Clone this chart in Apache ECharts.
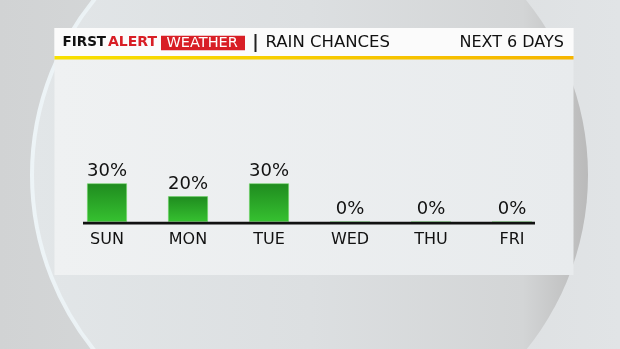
<!DOCTYPE html>
<html>
<head>
<meta charset="utf-8">
<script src="https://cdn.jsdelivr.net/npm/echarts@6/dist/echarts.min.js"></script>
<style>
html,body{margin:0;padding:0;background:#d6d8d9;}
#chart{width:620px;height:349px;}
</style>
</head>
<body>
<div id="chart"></div>
<script>
var categories = ['SUN', 'MON', 'TUE', 'WED', 'THU', 'FRI'];
var rainChance = [30, 20, 30, 0, 0, 0];
var headerBrand = ['FIRST', 'ALERT', 'WEATHER'];
var headerTitle = 'RAIN CHANCES';
var headerRight = 'NEXT 6 DAYS';

var chart = echarts.init(document.getElementById('chart'), null, {renderer: 'canvas'});
var F = '"DejaVu Sans", sans-serif';

var option = {
  animation: false,
  backgroundColor: {
    type: 'linear', x: 0, y: 0, x2: 1, y2: 0,
    colorStops: [{offset: 0, color: '#d1d3d4'}, {offset: 1, color: '#e1e4e6'}]
  },
  graphic: [
    {type: 'circle', z: -10, shape: {cx: 310, cy: 175, r: 278},
     style: {
       fill: {type: 'linear', x: 0, y: 0, x2: 1, y2: 0,
              colorStops: [{offset: 0, color: '#e2e6e8'}, {offset: 0.5, color: '#dcdfe1'},
                           {offset: 0.88, color: '#d3d5d6'}, {offset: 1, color: '#b9b9b9'}]},
       stroke: {type: 'linear', x: 0, y: 0, x2: 1, y2: 0,
                colorStops: [{offset: 0, color: '#edf4f7'}, {offset: 0.5, color: 'rgba(237,244,247,0.5)'}, {offset: 0.8, color: 'rgba(237,244,247,0)'}]},
       lineWidth: 4
     }},
    {type: 'rect', z: -9, shape: {x: 54.5, y: 28, width: 519, height: 247},
     style: {fill: {type: 'linear', x: 0, y: 0, x2: 1, y2: 0,
             colorStops: [{offset: 0, color: '#eff1f2'}, {offset: 1, color: '#e8ebed'}]}}},
    {type: 'rect', z: -8, shape: {x: 54.5, y: 28, width: 519, height: 28},
     style: {fill: '#fbfbfb'}},
    {type: 'rect', z: -8, shape: {x: 54.5, y: 56, width: 519, height: 3.5},
     style: {fill: {type: 'linear', x: 0, y: 0, x2: 1, y2: 0,
             colorStops: [{offset: 0, color: '#f8e000'}, {offset: 1, color: '#f6b500'}]}}},
    {type: 'text', z: 5, x: 62.5, y: 42.6,
     style: {text: headerBrand[0], font: '900 13.5px ' + F, fill: '#111', verticalAlign: 'middle'}},
    {type: 'text', z: 5, x: 108, y: 42.6,
     style: {text: headerBrand[1], font: '900 14px ' + F, fill: '#d81e25', verticalAlign: 'middle'}},
    {type: 'rect', z: 4, shape: {x: 161, y: 35.7, width: 84, height: 14.5},
     style: {fill: '#d81e25'}},
    {type: 'text', z: 5, x: 166.5, y: 43,
     style: {text: headerBrand[2], font: '400 14.5px ' + F, fill: '#ffffff', verticalAlign: 'middle'}},
    {type: 'rect', z: 5, shape: {x: 254.5, y: 34, width: 2, height: 18},
     style: {fill: '#222'}},
    {type: 'text', z: 5, x: 265.5, y: 43,
     style: {text: headerTitle, font: '400 16.5px ' + F, fill: '#111', verticalAlign: 'middle'}},
    {type: 'text', z: 5, x: 564, y: 42.5,
     style: {text: headerRight, font: '400 16px ' + F, fill: '#111', align: 'right', verticalAlign: 'middle'}},
    {type: 'rect', z: 20, shape: {x: 83, y: 221.8, width: 452, height: 2.6},
     style: {fill: '#111'}}
  ],
  grid: {left: 66.5, right: 67.5, top: 93, bottom: 127, containLabel: false},
  xAxis: {
    type: 'category',
    data: categories,
    axisLine: {show: false},
    axisTick: {show: false},
    axisLabel: {color: '#111', fontFamily: F, fontSize: 16, margin: 10}
  },
  yAxis: {type: 'value', min: 0, max: 100, show: false, splitLine: {show: false}},
  series: [{
    type: 'bar',
    data: rainChance,
    barWidth: 40,
    itemStyle: {
      color: {type: 'linear', x: 0, y: 0, x2: 0, y2: 1,
              colorStops: [{offset: 0, color: '#1f8b1f'}, {offset: 1, color: '#36c130'}]},
      borderColor: 'rgba(110,215,100,0.7)', borderWidth: 0.8
    },
    label: {
      show: true, position: 'top', distance: 3,
      formatter: '{c}%', color: '#111', fontFamily: F, fontSize: 18
    }
  }]
};
chart.setOption(option);
</script>
</body>
</html>
